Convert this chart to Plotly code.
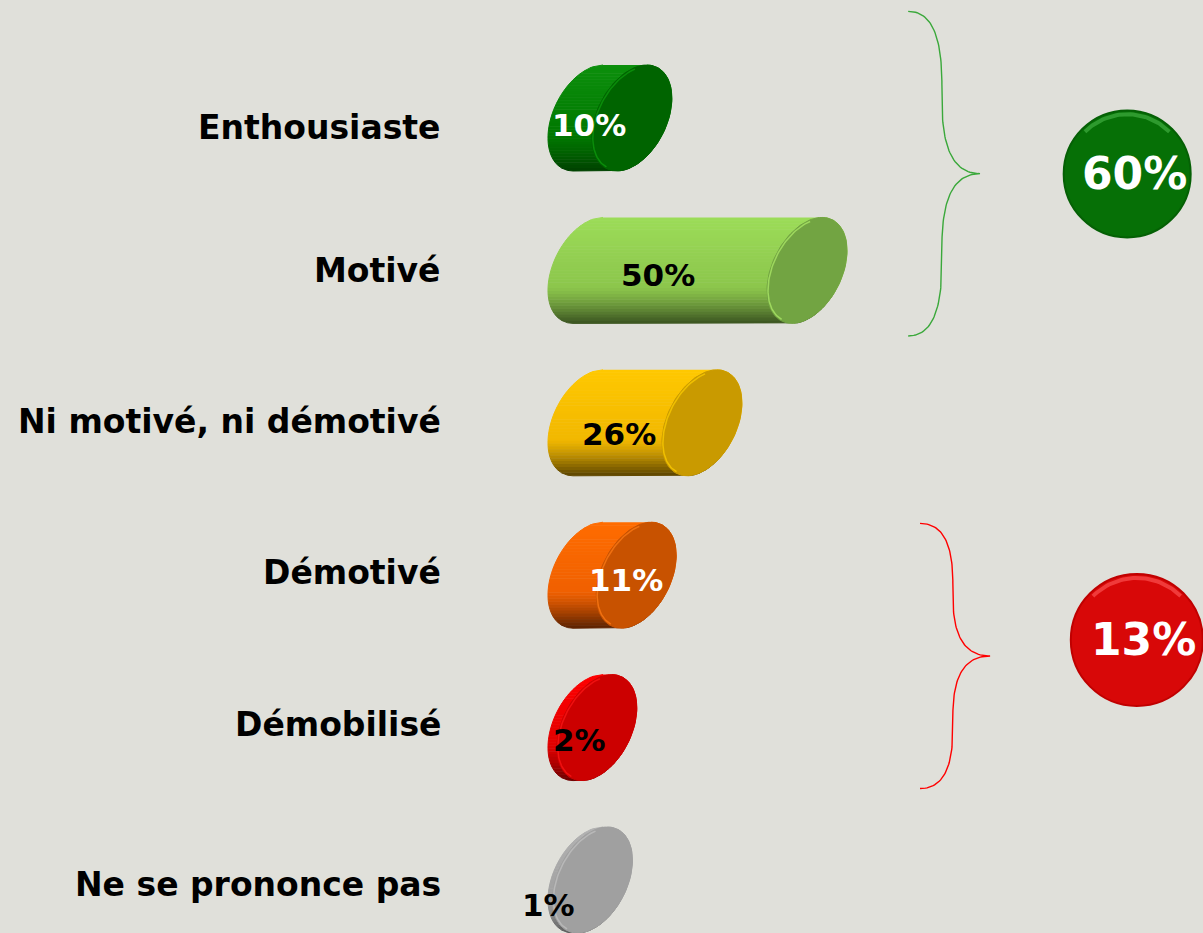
import numpy as np
import plotly.graph_objects as go

# données
categories = ["Enthousiaste", "Motivé", "Ni motivé, ni démotivé", "Démotivé", "Démobilisé", "Ne se prononce pas"]
values = [10, 50, 26, 11, 2, 1]
value_labels = ["10%", "50%", "26%", "11%", "2%", "1%"]
group_members = [[0, 1], [3, 4]]
group_totals = ["60%", "13%"]

# style des cylindres (haut, milieu, bas, face, reflet)
bar_colors = [
    ("#0c900c", "#007800", "#004000", "#006400", "#0a8c0a"),
    ("#9cdc58", "#8cc64c", "#3a5220", "#72a442", "#9ed85e"),
    ("#ffc800", "#f2b800", "#5a4300", "#c99a00", "#f0c000"),
    ("#ff6c00", "#f06000", "#582000", "#c85200", "#f07010"),
    ("#ff0000", "#e20000", "#6a0000", "#cc0000", "#f01010"),
    ("#b2b2b2", "#a2a2a2", "#5e5e5e", "#a0a0a0", "#b8b8b8"),
]
label_colors = ["white", "black", "black", "white", "black", "black"]
label_dx = [0.23, 16.0, 7.1, 8.7, -2.05, -9.1]
label_dy = [0.046, 0.033, 0.072, 0.033, 0.079, 0.164]
cat_dy = [0.06, 0.0, -0.01, -0.02, -0.02, 0.03]
brace_colors = ["#3aa83a", "#ff0000"]
brace_span = [(-0.70, 1.43), (2.66, 4.40)]
brace_x = [(73.1, 80.8, 89.5), (75.8, 83.3, 91.8)]
circle_colors = [("#067006", "#056005", "#2e9a2e"), ("#d80808", "#c00000", "#f03a3a")]
circle_pos = [(123.1, 0.367, 127), (125.3, 3.425, 132)]

BG = "#e0e0da"
KX = 4.38          # px par %
KY = 152.4         # px par rang
A = 37.1 / KX      # demi-largeur de l'ellipse
H = 15.0 / KX      # inclinaison
B = 53.0 / KY      # demi-hauteur


def mix(c1, c2, t):
    a = np.array([int(c1[i:i + 2], 16) for i in (1, 3, 5)])
    b = np.array([int(c2[i:i + 2], 16) for i in (1, 3, 5)])
    c = (a + (b - a) * t).round().astype(int)
    return "#%02x%02x%02x" % tuple(c)


def body_color(w, cols):
    top, mid, bot = cols[0], cols[1], cols[2]
    if w < 0.3:
        return mix(top, mid, (w + 1) / 1.3)
    return mix(mid, bot, ((w - 0.3) / 0.7) ** 1.3)


fig = go.Figure()

n_bands = 36
for i, v in enumerate(values):
    cols = bar_colors[i]
    edges = np.linspace(-1, 1, n_bands + 1)
    for k in range(n_bands):
        w = np.linspace(edges[k], edges[k + 1], 6)
        s = np.sqrt(np.clip(1 - w ** 2, 0, None))
        xl = -H * w - A * s
        xr = v - H * w + A * s
        ys = i + B * w
        c = body_color((edges[k] + edges[k + 1]) / 2, cols)
        fig.add_trace(go.Scatter(
            x=np.concatenate([xl, xr[::-1]]), y=np.concatenate([ys, ys[::-1]]),
            mode="lines", fill="toself", fillcolor=c, line=dict(color=c, width=1),
            hoverinfo="skip", showlegend=False))
    # face avant
    t = np.linspace(0, 2 * np.pi, 120)
    w = np.sin(t)
    fig.add_trace(go.Scatter(
        x=v - H * w + A * np.cos(t), y=i + B * w,
        mode="lines", fill="toself", fillcolor=cols[3], line=dict(color=cols[3], width=1),
        hoverinfo="skip", showlegend=False))
    t2 = np.linspace(np.pi * 0.6, np.pi * 1.4, 60)
    w2 = np.sin(t2)
    fig.add_trace(go.Scatter(
        x=v - H * w2 + A * 0.97 * np.cos(t2), y=i + B * 0.97 * w2,
        mode="lines", line=dict(color=cols[4], width=1.5),
        hoverinfo="skip", showlegend=False))

# étiquettes
for i, cat in enumerate(categories):
    fig.add_annotation(x=-33.8, y=i + cat_dy[i], text=cat, showarrow=False, xanchor="right", yanchor="middle",
                       xshift=3,
                       font=dict(family="DejaVu Sans", size=33, color="black", weight="bold"))
    fig.add_annotation(x=label_dx[i], y=i + label_dy[i], text=value_labels[i], showarrow=False,
                       xanchor="center", yanchor="middle",
                       font=dict(family="DejaVu Sans", size=31, color=label_colors[i], weight="bold"))

tt = np.linspace(0, 1, 40)


def bez(p0, p1, p2, p3):
    return ((1 - tt) ** 3)[:, None] * p0 + (3 * (1 - tt) ** 2 * tt)[:, None] * p1 + \
           (3 * (1 - tt) * tt ** 2)[:, None] * p2 + (tt ** 3)[:, None] * p3


# accolades + totaux
for g, members in enumerate(group_members):
    y0, y1 = brace_span[g]
    ym = (y0 + y1) / 2
    xe, xs, xt = brace_x[g]
    r = (ym - y0) * 0.45
    P = lambda x, y: np.array([x, y])
    seg1 = bez(P(xe, y0), P(xe + (xs - xe) * 0.75, y0), P(xs, y0 + r * 0.4), P(xs, y0 + r))
    seg2 = bez(P(xs, ym - r), P(xs, ym - r * 0.4), P(xs + (xt - xs) * 0.25, ym), P(xt, ym))
    seg3 = bez(P(xt, ym), P(xs + (xt - xs) * 0.25, ym), P(xs, ym + r * 0.4), P(xs, ym + r))
    seg4 = bez(P(xs, y1 - r), P(xs, y1 - r * 0.4), P(xe + (xs - xe) * 0.75, y1), P(xe, y1))
    pts = np.vstack([seg1, seg2, seg3, seg4])
    fig.add_trace(go.Scatter(x=pts[:, 0], y=pts[:, 1], mode="lines",
                             line=dict(color=brace_colors[g], width=1.4),
                             hoverinfo="skip", showlegend=False))

    cx, cy, size = circle_pos[g]
    fig.add_trace(go.Scatter(x=[cx], y=[cy], mode="markers",
                             marker=dict(size=size, color=circle_colors[g][0],
                                         line=dict(color=circle_colors[g][1], width=2)),
                             hoverinfo="skip", showlegend=False))
    rr = size / 2 * 0.94
    ang = np.linspace(np.pi * 0.25, np.pi * 0.75, 40)
    fig.add_trace(go.Scatter(x=cx + rr * np.cos(ang) / KX, y=cy - rr * np.sin(ang) / KY, mode="lines",
                             line=dict(color=circle_colors[g][2], width=4),
                             hoverinfo="skip", showlegend=False))
    fig.add_annotation(x=cx, y=cy, text=group_totals[g], showarrow=False, xshift=7,
                       font=dict(family="DejaVu Sans", size=44, color="white", weight="bold"))

fig.update_layout(
    width=1203, height=933, autosize=False,
    margin=dict(l=0, r=0, t=0, b=0),
    paper_bgcolor=BG, plot_bgcolor=BG,
    showlegend=False,
)
fig.update_xaxes(range=[-588 / KX, 615 / KX], visible=False, showgrid=False, zeroline=False)
fig.update_yaxes(range=[(933 - 118) / KY, -118 / KY], visible=False, showgrid=False, zeroline=False)

fig.write_html("out.html", config={"displayModeBar": False},
               post_script="document.body.style.margin='0';")
